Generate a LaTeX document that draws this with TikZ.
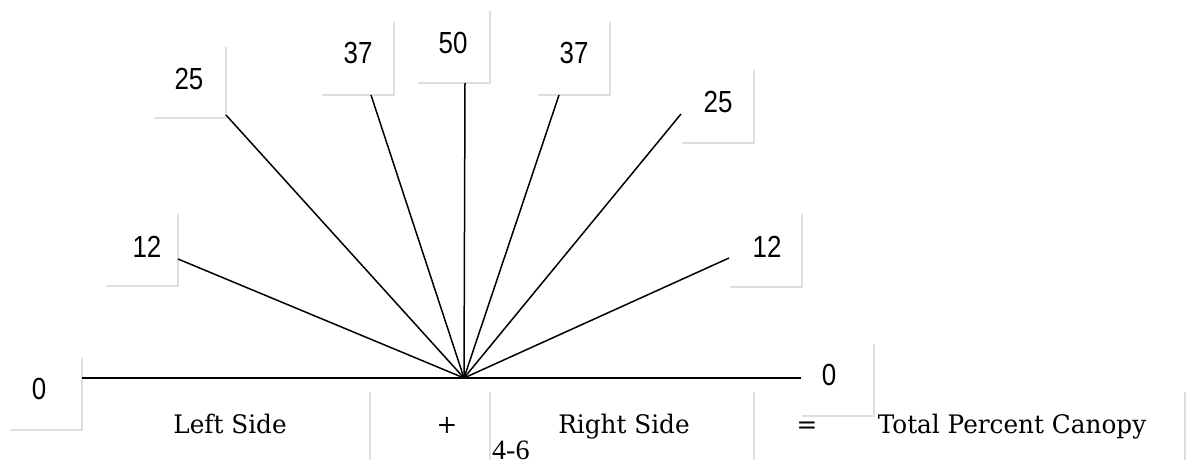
\documentclass[tikz,border=0pt]{standalone}
\usepackage{fontspec}
\newfontfamily\numfont[FakeStretch=0.85]{Liberation Sans}
\newfontfamily\lblfont[FakeStretch=0.97]{DejaVu Serif}
\newfontfamily\pgfont{Liberation Serif}
\definecolor{edgegray}{RGB}{222,222,222}
\begin{document}
\begin{tikzpicture}[x=1pt,y=-1pt,
  numlbl/.style={inner sep=0pt,font=\numfont\fontsize{30.5}{32}\selectfont},
  sidelbl/.style={inner sep=0pt,anchor=base,font=\lblfont\fontsize{25.5}{28}\selectfont},
  ray/.style={line width=1.5pt,black},
  baseline/.style={line width=2pt,black},
  boxedge/.style={line width=1.3pt,edgegray},
  sep/.style={line width=1.3pt,edgegray}]
\useasboundingbox (0,0) rectangle (1186,460);
% fan centre and ray ends
\coordinate (c) at (464,378);
\coordinate (e12l) at (178,259);
\coordinate (e25l) at (226,115);
\coordinate (e37l) at (371,95);
\coordinate (e50) at (465,83);
\coordinate (e37r) at (559,95);
\coordinate (e25r) at (681,114);
\coordinate (e12r) at (729,258);
\coordinate (e0l) at (82,378);
\coordinate (e0r) at (801,378);
% label box corners (right and bottom edges)
\draw[boxedge] (82,358) -- (82,430) -- (10,430);
\draw[boxedge] (178,214) -- (178,286) -- (106,286);
\draw[boxedge] (226,47) -- (226,118) -- (154,118);
\draw[boxedge] (394,22) -- (394,95) -- (322,95);
\draw[boxedge] (490,11) -- (490,83) -- (418,83);
\draw[boxedge] (610,22) -- (610,95) -- (538,95);
\draw[boxedge] (754,70) -- (754,143) -- (682,143);
\draw[boxedge] (802,214) -- (802,287) -- (730,287);
\draw[boxedge] (874,344) -- (874,416) -- (802,416);
% separators of the bottom row
\draw[sep] (370,392) -- (370,460);
\draw[sep] (490,392) -- (490,460);
\draw[sep] (754,392) -- (754,460);
\draw[sep] (1185,392) -- (1185,460);
% labels
\node[numlbl] (n0l) at (39,389) {0};
\node[numlbl] (n12l) at (147,247) {12};
\node[numlbl] (n25l) at (189,79) {25};
\node[numlbl] (n37l) at (358,53) {37};
\node[numlbl] (n50) at (453,43) {50};
\node[numlbl] (n37r) at (574,53) {37};
\node[numlbl] (n25r) at (718,102) {25};
\node[numlbl] (n12r) at (767,247) {12};
\node[numlbl] (n0r) at (829,375) {0};
% rays
\draw[baseline] (e0l) -- (c) -- (e0r);
\foreach \e in {e12l,e25l,e37l,e50,e37r,e25r,e12r}
  \draw[ray] (c) -- (\e);
% bottom row
\node[sidelbl] (left) at (230,433) {Left Side};
\node[sidelbl] (plus) at (447,433) {+};
\node[sidelbl] (right) at (624,433) {Right Side};
\node[sidelbl] (eq) at (807,433) {=};
\node[sidelbl] (total) at (1012,433) {Total Percent Canopy};
\node[inner sep=0pt,anchor=base west,font=\pgfont\fontsize{28}{30}\selectfont] (page) at (492,459) {4-6};
\end{tikzpicture}
\end{document}
